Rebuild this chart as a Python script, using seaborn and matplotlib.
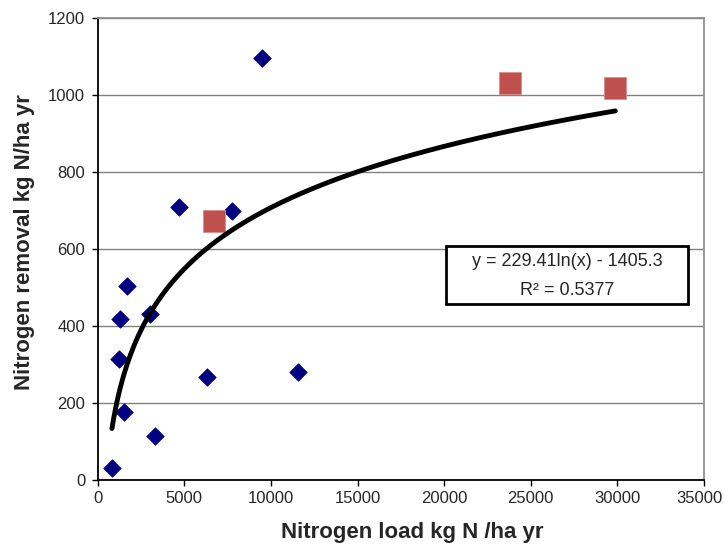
import numpy as np
import pandas as pd
import matplotlib
matplotlib.use("Agg")
import matplotlib.pyplot as plt
from matplotlib.patches import Rectangle
from matplotlib.transforms import ScaledTranslation
import seaborn as sns

# data
blue_x = [9500, 4700, 7750, 1700, 1300, 3000, 1250, 6300, 11550, 1500, 3300, 820]
blue_y = [1095, 709, 699, 504, 418, 431, 314, 268, 281, 177, 114, 31]
red_x = [6700, 23800, 29880]
red_y = [674, 1031, 1017]

# trend line as printed in the chart
coef_a = 229.41
coef_b = -1405.3
r2 = 0.5377

sns.set_style("white")
plt.rcParams['font.family'] = ['Liberation Sans', 'DejaVu Sans']

df_blue = pd.DataFrame({'load': blue_x, 'removal': blue_y})
df_red = pd.DataFrame({'load': red_x, 'removal': red_y})

fig = plt.figure(figsize=(7.24, 5.44), dpi=100)
ax = fig.add_axes([0.135, 0.1176, 0.8374, 0.8493])

# gridlines
ax.set_axisbelow(True)
ax.yaxis.grid(True, color='#808080', linewidth=1)

sns.scatterplot(data=df_blue, x='load', y='removal', marker='D', s=80,
                color='#000080', edgecolor='#000080', linewidth=0.5, ax=ax, zorder=3)
sns.scatterplot(data=df_red, x='load', y='removal', marker='s', s=260,
                color='#C0504D', edgecolor='#D88C8A', linewidth=0.6, ax=ax, zorder=3)

all_x = blue_x + red_x
xs = np.linspace(min(all_x), max(all_x), 300)
sns.lineplot(x=xs, y=coef_a * np.log(xs) + coef_b, color='black', linewidth=3.5,
             ax=ax, zorder=4, solid_capstyle='round')

ax.set_xlim(0, 35000)
ax.set_ylim(0, 1200)
ax.set_xticks(range(0, 35001, 5000))
ax.set_yticks(range(0, 1201, 200))
ax.tick_params(axis='both', direction='out', length=4, width=1, color='black',
               labelsize=12, bottom=True, left=True)
ax.tick_params(axis='x', pad=4)
ax.tick_params(axis='y', pad=5)

# nudge the last x tick label so it stays inside the figure
last = ax.get_xticklabels()[-1]
last.set_transform(last.get_transform() + ScaledTranslation(-5 / 100, 0, fig.dpi_scale_trans))

for s in ['left', 'bottom']:
    ax.spines[s].set_color('black')
    ax.spines[s].set_linewidth(1.3)
for s in ['top', 'right']:
    ax.spines[s].set_color('#909090')
    ax.spines[s].set_linewidth(1.3)

ax.set_xlabel('Nitrogen load kg N /ha yr', fontsize=16, fontweight='bold')
ax.set_ylabel('Nitrogen removal kg N/ha yr', fontsize=16, fontweight='bold')
ax.xaxis.set_label_coords(0.519, -0.09)
ax.yaxis.set_label_coords(-0.104, 0.515)

# equation box
ax.add_patch(Rectangle((0.574, 0.381), 0.3996, 0.1255, transform=ax.transAxes,
                       facecolor='white', edgecolor='black', linewidth=2, zorder=5))
ax.text(0.774, 0.472, f"y = {coef_a:.2f}ln(x) - {abs(coef_b):.1f}",
        transform=ax.transAxes, ha='center', va='center', fontsize=13, zorder=6)
ax.text(0.774, 0.411, f"R² = {r2:.4f}",
        transform=ax.transAxes, ha='center', va='center', fontsize=13, zorder=6)

fig.savefig('out.png', dpi=100)
